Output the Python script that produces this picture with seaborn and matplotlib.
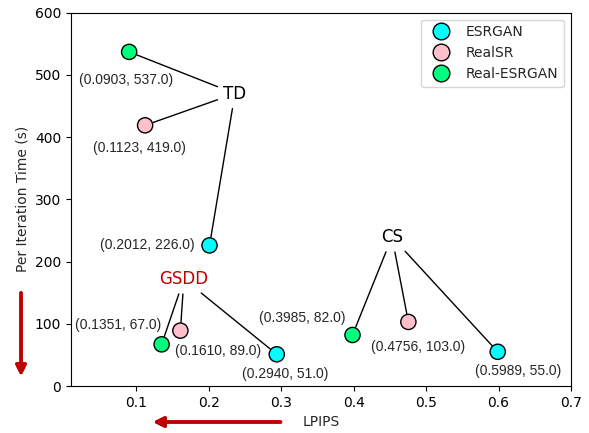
import matplotlib
matplotlib.use("Agg")
import matplotlib.pyplot as plt
from matplotlib.lines import Line2D
import seaborn as sns
import pandas as pd

# data
groups = ["TD", "TD", "TD", "GSDD", "GSDD", "GSDD", "CS", "CS", "CS"]
methods = ["ESRGAN", "RealSR", "Real-ESRGAN"] * 3
lpips = [0.2012, 0.1123, 0.0903, 0.2940, 0.1610, 0.1351, 0.5989, 0.4756, 0.3985]
iter_time = [226.0, 419.0, 537.0, 51.0, 89.0, 67.0, 55.0, 103.0, 82.0]

group_names = ["TD", "GSDD", "CS"]
group_pos = [(0.2363, 470.0), (0.1659, 172.0), (0.453, 239.5)]
group_colors = ["black", "#C00000", "black"]

# where each value label sits relative to its point (points)
label_offsets = [(-45, 0), (-4, -16), (-2, -20),
                 (6, -14), (27, -15), (-31, 14),
                 (15, -14), (7, -18), (-36, 12)]

palette = {"ESRGAN": "#00FFFF", "RealSR": "#FFC0CB", "Real-ESRGAN": "#00FF7F"}

df = pd.DataFrame({"group": groups, "method": methods,
                   "LPIPS": lpips, "time": iter_time})

sns.set_style("ticks")
plt.rcParams["font.family"] = ["DejaVu Sans"]

fig = plt.figure(figsize=(5.89, 4.33), dpi=100)
ax = fig.add_axes([0.1205, 0.1085, 0.8489, 0.8622])

# connector lines from group label to its points
for name, pos, col in zip(group_names, group_pos, group_colors):
    sub = df[df["group"] == name]
    for _, r in sub.iterrows():
        ax.annotate(name, xy=(r["LPIPS"], r["time"]), xytext=pos,
                    fontsize=12, ha="center", va="center", color=(0, 0, 0, 0),
                    arrowprops=dict(arrowstyle="-", color="black", lw=1,
                                    shrinkA=2, shrinkB=6), zorder=1)
    ax.text(pos[0], pos[1], name, color=col, fontsize=12,
            ha="center", va="center", zorder=3)

sns.scatterplot(data=df, x="LPIPS", y="time", hue="method", palette=palette,
                s=120, edgecolor="black", linewidth=1, legend=False,
                ax=ax, zorder=4)

for x, y, off in zip(lpips, iter_time, label_offsets):
    ax.annotate(f"({x:.4f}, {y:.1f})", xy=(x, y), xytext=off,
                textcoords="offset points", ha="center", va="center",
                fontsize=10, family=["Liberation Sans", "DejaVu Sans"])

ax.set_xlim(0.01, 0.7)
ax.set_ylim(0, 600)
ax.set_xticks([0.1, 0.2, 0.3, 0.4, 0.5, 0.6, 0.7])
ax.set_xlabel("LPIPS", fontsize=10)
ax.set_ylabel("Per Iteration Time (s)", fontsize=10)
for sp in ax.spines.values():
    sp.set_color("black")
ax.tick_params(colors="black", labelsize=10)

handles = [Line2D([], [], marker="o", linestyle="", markersize=12,
                  markerfacecolor=palette[m], markeredgecolor="black", label=m)
           for m in ["ESRGAN", "RealSR", "Real-ESRGAN"]]
ax.legend(handles=handles, loc="upper right", fontsize=10, frameon=True)

# red direction arrows outside the axes
red_arrow = dict(arrowstyle="-|>", color="#C00000", lw=2.5, mutation_scale=15)
fig.add_artist(plt.annotate("", xy=(0.0357, 0.125), xytext=(0.0357, 0.330),
                            xycoords="figure fraction", arrowprops=red_arrow))
fig.add_artist(plt.annotate("", xy=(0.255, 0.0254), xytext=(0.481, 0.0254),
                            xycoords="figure fraction", arrowprops=red_arrow))

fig.savefig("out.png", dpi=100)
